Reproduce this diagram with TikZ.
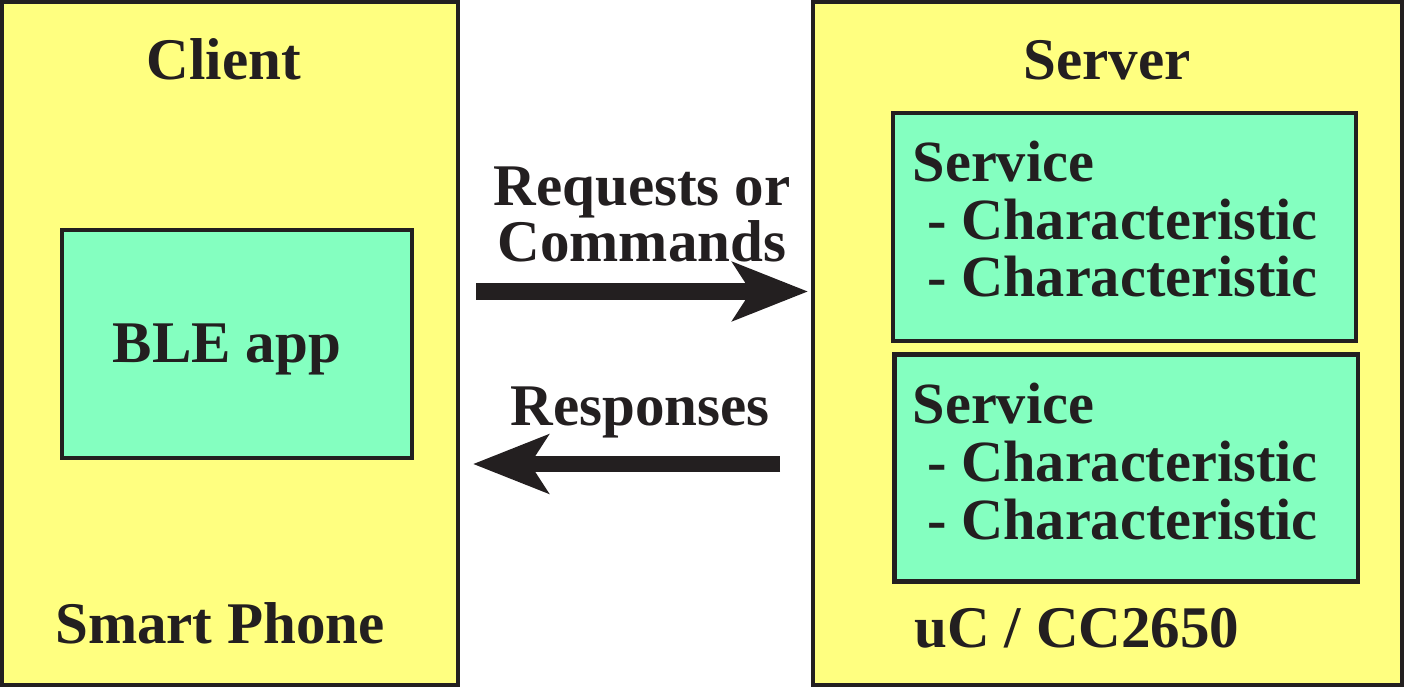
\documentclass[tikz,border=0pt]{standalone}
\usepackage{fontspec}
\setmainfont{Liberation Serif}
\usetikzlibrary{arrows.meta,positioning}
\definecolor{boxyellow}{HTML}{FFFF80}
\definecolor{boxgreen}{HTML}{84FFC0}
\definecolor{ink}{HTML}{231F20}

\begin{document}
\begin{tikzpicture}[font=\fontsize{16.8}{16.5}\selectfont\bfseries,
  dev/.style={draw=ink,fill=boxyellow,line width=1.15pt,inner sep=0pt},
  blk/.style={draw=ink,fill=boxgreen,line width=1.15pt,inner sep=0pt},
  lbl/.style={text=ink,inner sep=0pt,anchor=base},
  svclist/.style={lbl,anchor=base west,align=left,font=\fontsize{16.6}{16.4}\selectfont\bfseries},
  flow/.style={draw=ink,line width=4.8pt,-{Stealth[length=7.5mm,width=5.8mm,inset=1.8mm]}}]
                      \useasboundingbox (0,0) rectangle (14.04,6.87);

                      \node[dev,minimum width=4.56cm,minimum height=6.83cm] (client) at (2.30,3.435) {};
                      \node[dev,minimum width=5.89cm,minimum height=6.83cm] (server) at (11.075,3.435) {};

                      \node[blk,minimum width=3.50cm,minimum height=2.285cm] (app) at (2.37,3.43) {};
                      \node[blk,minimum width=4.63cm,minimum height=2.28cm] (svc1) at (11.245,4.60) {};
                      \node[blk,minimum width=4.63cm,minimum height=2.27cm] (svc2) at (11.26,2.19) {};

                      \node[lbl] (clientname) at (2.24,6.07) {Client};
                      \node[lbl] (servername) at (11.07,6.07) {Server};
                      \node[lbl] (appname) at (2.27,3.24) {BLE app};
                      \node[lbl] (phone) at (2.20,0.44) {Smart Phone};
                      \node[lbl] (chip) at (10.77,0.40) {uC / CC2650};

                      % base = last line of the list
                      \node[svclist] (svc1text) at (9.12,3.90) {Service\\\ - Characteristic\\\ - Characteristic};
                      \node[svclist] (svc2text) at (9.12,1.48) {Service\\\ - Characteristic\\\ - Characteristic};

                      \coordinate (reqS) at (4.76,3.955);
                      \coordinate (reqE) at (8.08,3.955);
                      \coordinate (resS) at (7.80,2.23);
                      \coordinate (resE) at (4.73,2.23);
                      \draw[flow] (reqS) -- (reqE);
                      \draw[flow] (resS) -- (resE);
                      \node[lbl,align=center,font=\fontsize{16.8}{16.2}\selectfont\bfseries] (req) at (6.42,4.25) {Requests or\\Commands};
                      \node[lbl] (res) at (6.40,2.62) {Responses};
                    \end{tikzpicture}
\end{document}
